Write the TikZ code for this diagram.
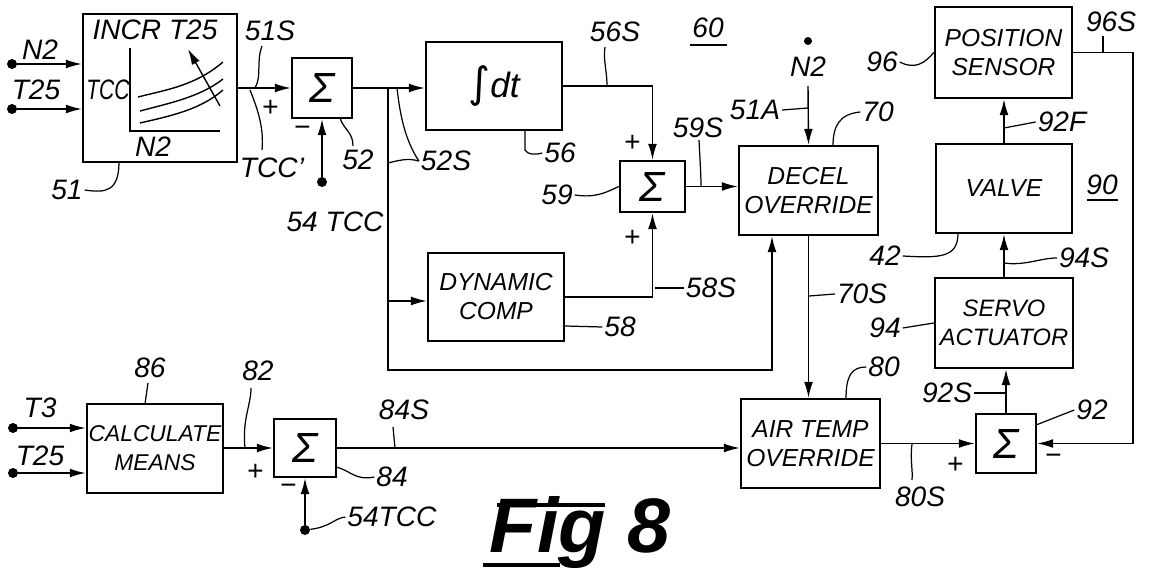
\documentclass[tikz,border=0pt]{standalone}
\usepackage{fontspec}
\usepackage{graphicx}
\setmainfont{Liberation Sans}
\newfontfamily\dejavu{DejaVu Sans}
\usetikzlibrary{arrows.meta}
\newcommand{\lblf}{\fontsize{16}{18}\selectfont\itshape}
\newcommand{\boxf}{\fontsize{14}{16.5}\selectfont\itshape}
\newcommand{\sigf}{\fontsize{24}{26}\selectfont\itshape}
\begin{document}
\begin{tikzpicture}[x=0.02cm,y=-0.02cm,
 blk/.style={draw,line width=1.4pt,align=center,font=\boxf,inner sep=1pt},
 sumb/.style={draw,line width=1.4pt,font=\sigf,inner sep=0pt},
 lbl/.style={font=\lblf,inner sep=1pt},
 ln/.style={line width=0.8pt},
 arr/.style={line width=0.8pt,-{Latex[length=9pt,width=5pt]}},
 lead/.style={line width=0.7pt},
 dot/.style={circle,fill,inner sep=0pt,minimum size=0.2cm}]
\useasboundingbox (0,0) rectangle (1153,571);

% ---------- blocks ----------
\node[blk,minimum width=3.08cm,minimum height=2.96cm] (b51) at (160,88) {};
\node[sumb,minimum width=1.2cm,minimum height=1.2cm] (s52) at (322,88) {Σ};
\node[blk,minimum width=2.72cm,minimum height=1.76cm] (b56) at (494,86) {{\dejavu\fontsize{24}{26}\selectfont ∫}{\fontsize{20}{22}\selectfont\itshape dt}};
\node[sumb,minimum width=1.3cm,minimum height=1.02cm] (s59) at (652.5,186.5) {Σ};
\node[blk,minimum width=2.72cm,minimum height=1.76cm] (b58) at (496,297) {DYNAMIC\\COMP};
\node[blk,minimum width=2.78cm,minimum height=1.78cm] (b70) at (808.5,190.5) {DECEL\\OVERRIDE};
\node[blk,minimum width=2.78cm,minimum height=1.78cm] (b80) at (810.5,443.5) {AIR TEMP\\OVERRIDE};
\node[blk,minimum width=2.72cm,minimum height=1.78cm,font=\fontsize{13}{16.5}\selectfont\itshape] (b86) at (155,448.5) {CALCULATE\\MEANS};
\node[sumb,minimum width=1.24cm,minimum height=1.16cm] (s84) at (305,448) {Σ};
\node[sumb,minimum width=1.2cm,minimum height=1.18cm] (s92) at (1006,443.5) {Σ};
\node[blk,minimum width=2.76cm,minimum height=1.8cm,font=\fontsize{13.5}{16.5}\selectfont\itshape] (b94) at (1004,323) {SERVO\\ACTUATOR};
\node[blk,minimum width=2.72cm,minimum height=1.78cm] (bv) at (1004,188.5) {VALVE};
\node[blk,minimum width=2.74cm,minimum height=1.82cm] (b96) at (1003.5,52.5) {POSITION\\SENSOR};

% ---------- inside block 51 ----------
\node[lbl] (t51a) at (155,30) {INCR T25};
\node[lbl] (t51b) at (108,90) {\scalebox{0.75}[1]{TCC}};
\node[lbl] (t51c) at (153,147) {N2};
\draw[line width=1pt] (130,48) -- (130,131) -- (220,131);
\draw[ln] (138,97) .. controls (165,90) and (195,86) .. (223,62);
\draw[ln] (140,111) .. controls (170,103) and (200,97) .. (223,79);
\draw[ln] (140,123) .. controls (170,116) and (200,110) .. (223,90);
\draw[arr] (220,106) -- (188,49);

% ---------- inputs ----------
\node[dot] (dN2) at (12,64) {};
\node[dot] (dT25) at (12,109) {};
\node[lbl] (lN2) at (40,50) {N2};
\node[lbl] (lT25) at (36,90) {T25};
\draw[arr] (dN2) -- (dN2 -| b51.west);
\draw[arr] (dT25) -- (dT25 -| b51.west);

\node[dot] (dT3) at (13,428) {};
\node[dot] (dT25b) at (13,473) {};
\node[lbl] (lT3) at (40,408) {T3};
\node[lbl] (lT25b) at (40,456) {T25};
\draw[arr] (dT3) -- (dT3 -| b86.west);
\draw[arr] (dT25b) -- (dT25b -| b86.west);

% ---------- connectors ----------
\coordinate (j1) at (388,88);
\coordinate (j2) at (388,301);
\coordinate (c1) at (388,370);
\coordinate (c2) at (772,370);
\coordinate (fb) at (1133,52.5);

\draw[arr] (b51.east |- s52.west) -- (s52.west);
\node[dot] (d52) at (322,182) {};
\draw[arr] (d52) -- (s52.south);
\draw[ln] (s52.east) -- (j1);
\draw[arr] (j1) -- (j1 -| b56.west);
\draw[arr] (j1) -- (c1) -- (c2) -- (c2 |- b70.south);
\draw[arr] (j2) -- (j2 -| b58.west);
\draw[arr] (b56.east) -| (s59.north);
\draw[arr] (b58.east) -| (s59.south);
\draw[arr] (s59.east) -- (s59.east -| b70.west);

\node[lbl] (lN2d) at (808,67) {N2};
\node[circle,fill,inner sep=0pt,minimum size=0.16cm] (n2dot) at (808,41) {};
\draw[arr] (808,86) -- (b70.north);
\draw[arr] (b70.south) -- (b70.south |- b80.north);

\draw[arr] (b86.east |- s84.west) -- (s84.west);
\node[dot] (d84) at (305,530) {};
\draw[arr] (d84) -- (s84.south);
\draw[arr] (s84.east) -- (s84.east -| b80.west);
\draw[arr] (b80.east) -- (b80.east -| s92.west);
\draw[arr] (s92.north) -- (s92.north |- b94.south);
\draw[arr] (b94.north) -- (b94.north |- bv.south);
\draw[arr] (bv.north) -- (bv.north |- b96.south);
\draw[arr] (b96.east) -- (b96.east -| fb) -- (fb |- s92.east) -- (s92.east);

% ---------- signs ----------
\node[lbl] (p52) at (270,108) {+};
\node[lbl] (m52) at (302,131) {−};
\node[lbl] (p59a) at (632,143) {+};
\node[lbl] (p59b) at (632,238) {+};
\node[lbl] (p84) at (255,472) {+};
\node[lbl] (m84) at (288,489) {−};
\node[lbl] (p92) at (955,465) {+};
\node[lbl] (m92) at (1053,459) {−};

% ---------- labels and leaders ----------
\node[lbl] (l51) at (67,190) {51};
\draw[lead] (l51.east) .. controls (105,193) and (119,192) .. (119,162);
\node[lbl] (l51S) at (270,31) {51S};
\draw[lead] (262,46) .. controls (256,62) and (262,76) .. (255,88);
\node[lbl] (lTCC) at (272,168) {TCC'};
\draw[lead] (250,90) .. controls (258,110) and (264,128) .. (262,150);
\node[lbl] (l52) at (358,160) {52};
\draw[lead] (340,118) .. controls (344,130) and (353,132) .. (353,146);
\node[lbl] (l54a) at (335,222) {54 TCC};
\node[lbl] (l52S) at (446,161) {52S};
\draw[lead] (397,88) .. controls (400,115) and (405,140) .. (l52S.west);
\draw[lead] (388,163) .. controls (400,160) and (408,158) .. (l52S.west);
\node[lbl] (l56S) at (615,32) {56S};
\draw[lead] (607,86) .. controls (607,70) and (603,60) .. (605,47);
\node[lbl] (l56) at (560,153) {56};
\draw[lead] (525,130) -- (525,150) .. controls (528,155) and (535,155) .. (l56.west);
\node[lbl] (l60) at (708,28) {60};
\draw[line width=0.8pt] (690,45) -- (727,45);
\node[lbl] (l59) at (557,195) {59};
\draw[lead] (l59.east) .. controls (595,198) and (605,193) .. (s59.west);
\node[lbl] (l59S) at (698,128) {59S};
\draw[lead] (699,140) .. controls (700,160) and (701,175) .. (701,186);
\node[lbl] (l51A) at (755,110) {51A};
\draw[lead] (l51A.east) -- (808,108);
\node[lbl] (l70) at (878,112) {70};
\draw[lead] (833,146) .. controls (833,125) and (840,114) .. (l70.west);
\node[lbl] (l58S) at (711,288) {58S};
\draw[lead] (655,288) -- (l58S.west);
\node[lbl] (l58) at (620,327) {58};
\draw[lead] (b58.east |- 0,326) -- (l58.west);
\node[lbl] (l70S) at (862,294) {70S};
\draw[lead] (809,296) -- (l70S.west);
\node[lbl] (l80) at (884,367) {80};
\draw[lead] (846,399) .. controls (846,375) and (852,367) .. (l80.west);
\node[lbl] (l42) at (885,256) {42};
\draw[lead] (958,233) .. controls (958,258) and (940,258) .. (l42.east);
\node[lbl] (l94S) at (1084,258) {94S};
\draw[lead] (1004,263) .. controls (1025,266) and (1040,258) .. (l94S.west);
\node[lbl] (l92F) at (1062,122) {92F};
\draw[lead] (1004,128) -- (l92F.west);
\node[lbl] (l96) at (882,62) {96};
\draw[lead] (l96.east) .. controls (915,70) and (925,63) .. (b96.west);
\node[lbl] (l96S) at (1111,22) {96S};
\draw[lead] (1103,52.5) -- (1103,36);
\node[lbl] (l90) at (1102,185) {90};
\draw[line width=0.8pt] (1087,200) -- (1118,200);
\node[lbl] (l94) at (885,328) {94};
\draw[lead] (l94.east) -- (b94.west);
\node[lbl] (l92S) at (947,393) {92S};
\draw[lead] (l92S.east) -- (1006,393);
\node[lbl] (l92) at (1092,410) {92};
\draw[lead] (1036,425) -- (l92.west);
\node[lbl] (l80S) at (920,497) {80S};
\draw[lead] (912,444) .. controls (910,460) and (913,470) .. (912,480);
\node[lbl] (l86) at (150,368) {86};
\draw[lead] (145,404) -- (148,383);
\node[lbl] (l82) at (258,371) {82};
\draw[lead] (245,448) .. controls (242,420) and (251,405) .. (251,388);
\node[lbl] (l84) at (392,477) {84};
\draw[lead] (336,467) .. controls (350,470) and (355,481) .. (l84.west);
\node[lbl] (l84S) at (404,410) {84S};
\draw[lead] (395,448) -- (393,427);
\node[lbl] (l54b) at (392,517) {54TCC};
\draw[lead] (d84) .. controls (330,527) and (335,518) .. (l54b.west);

% ---------- figure title ----------
\node[inner sep=0pt,font=\fontsize{44}{46}\selectfont\bfseries\itshape] (fig) at (580,533) {Fig 8};
\draw[line width=2.5pt] (497,505) -- (605,505);
\draw[line width=2.5pt] (483,565) -- (560,565);
\end{tikzpicture}
\end{document}
